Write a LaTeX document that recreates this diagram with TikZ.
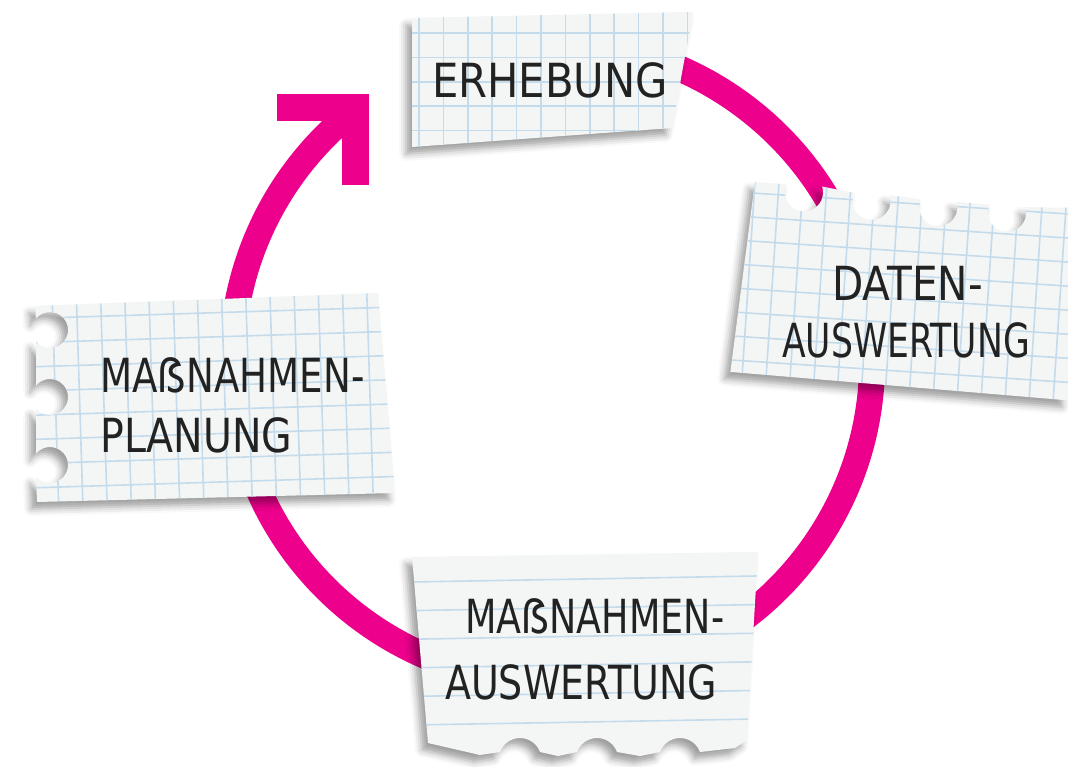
\documentclass[tikz,border=0pt]{standalone}
\usepackage{fontspec}
\newfontfamily\handfont{DejaVu Sans}[FakeStretch=0.8]
\usetikzlibrary{shadows.blur}
\definecolor{ring}{RGB}{236,0,140}
\definecolor{paper}{RGB}{244,246,246}
\definecolor{gridblue}{RGB}{196,219,236}
\definecolor{ink}{RGB}{34,34,34}
\tikzset{
  ringline/.style={draw=ring, line width=26pt},
  headline/.style={draw=ring, line width=27pt, line join=miter},
  sheet/.style={fill=paper, blur shadow={shadow xshift=-6pt, shadow yshift=-7pt,
      shadow blur radius=7pt, shadow opacity=38}},
  gridline/.style={draw=gridblue, line width=1.6pt},
  handtext/.style={font=\handfont\fontsize{47}{50}\selectfont, text=ink,
      inner sep=0pt, anchor=west},
}
% horizontally stretched handwriting line
\newcommand{\handline}[2]{\scalebox{#1}[1]{#2}}
\begin{document}
\begin{tikzpicture}[x=1pt,y=1pt]
\useasboundingbox (0,0) rectangle (1068,-766);

% the cycle ring and its arrow head
\coordinate (hub) at (552,-362);
\draw[ringline] (hub) ++(100:320) arc[start angle=100, end angle=-230, radius=320];
\coordinate (headL) at (277,-107);
\coordinate (headC) at (355,-107);
\coordinate (headD) at (355,-185);
\draw[headline] (headL) -- (headC) -- (headD);

% sheet 1: squared paper, top
\def\sheetA{(412,-18) -- (693,-12) -- (672,-128) -- (412,-147) -- cycle}
\path[sheet] \sheetA;
\begin{scope}
  \clip \sheetA;
  \draw[gridline, shift={(419,-33)}] (-30,-140) grid[step=24.4pt] (300,40);
\end{scope}
\node[handtext] (erhebung) at (432,-80) {\handline{1.11}{ERHEBUNG}};

% sheet 2: squared paper with punched top edge, right
\begin{scope}[shift={(900,-292)}, rotate=-3.8]
  \def\sheetB{(-164,-91) -- (-152,100) -- (-120,100)
    arc[start angle=158.5, end angle=381.5, radius=19] -- (-52,96)
    arc[start angle=158.5, end angle=381.5, radius=19] -- (15,94)
    arc[start angle=158.5, end angle=381.5, radius=19] -- (84,93)
    arc[start angle=158.5, end angle=381.5, radius=19] -- (140,94) -- (175,96)
    -- (175,-97) -- cycle}
  \path[sheet] \sheetB;
  \begin{scope}
    \clip \sheetB;
    \draw[gridline, shift={(-128,65)}] (-60,-200) grid[step=24pt] (320,60);
  \end{scope}
\end{scope}
\node[handtext] (datenA) at (832,-283) {\handline{1.08}{DATEN-}};
\node[handtext] (datenB) at (782,-340) {\handline{0.92}{AUSWERTUNG}};

% sheet 3: squared paper with punched left edge, left
\def\sheetC{(35,-306) -- (378,-293) -- (395,-493) -- (37,-502) -- (36,-476.3)
  arc[start angle=218.9, end angle=501.1, radius=18] -- (36,-408.3)
  arc[start angle=218.9, end angle=501.1, radius=18] -- (36,-341.3)
  arc[start angle=218.9, end angle=501.1, radius=18] -- cycle}
\path[sheet] \sheetC;
\begin{scope}
  \clip \sheetC;
  \draw[gridline, shift={(77,-317)}, rotate=1.8] (-80,-220) grid[step=24.2pt] (340,40);
\end{scope}
\node[handtext] (planA) at (100,-375) {\handline{0.99}{MAẞNAHMEN-}};
\node[handtext] (planB) at (100,-435) {\handline{1.05}{PLANUNG}};

% sheet 4: lined paper with torn bottom edge
\def\sheetD{(412,-557) -- (758,-552) -- (747,-740) -- (735,-748) -- (700,-752)
  arc[start angle=20, end angle=160, radius=21.3] -- (640,-756) -- (617,-752)
  arc[start angle=20, end angle=160, radius=21.3] -- (558,-756) -- (540,-752)
  arc[start angle=20, end angle=160, radius=21.3] -- (480,-755) -- (428,-743) -- cycle}
\path[sheet] \sheetD;
\begin{scope}
  \clip \sheetD;
  \begin{scope}[shift={(412,-582)}, rotate=1]
    \foreach \k in {0,...,5}
      \draw[gridline] (-10,-28.6*\k) -- (360,-28.6*\k);
  \end{scope}
\end{scope}
\node[handtext] (evalA) at (465,-616) {\handline{0.97}{MAẞNAHMEN-}};
\node[handtext] (evalB) at (445,-682) {\handline{1.01}{AUSWERTUNG}};
\end{tikzpicture}
\end{document}
